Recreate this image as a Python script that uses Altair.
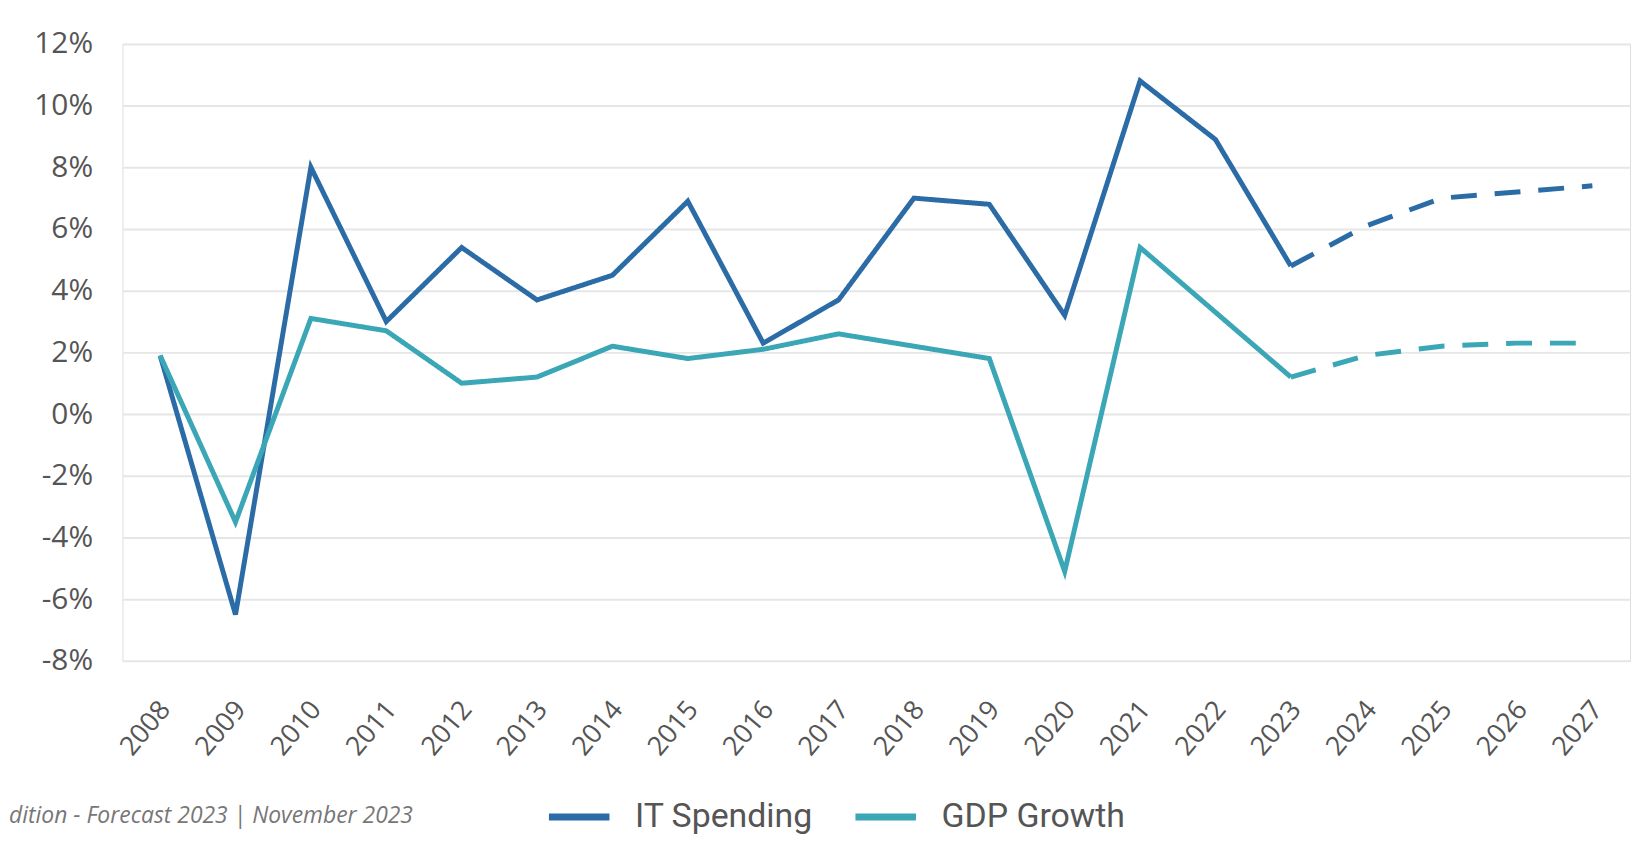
import altair as alt
import pandas as pd

years = [str(y) for y in range(2008, 2028)]
series_names = ["IT Spending", "GDP Growth"]
it_actual = [1.9, -6.5, 8.0, 3.0, 5.4, 3.7, 4.5, 6.9, 2.3, 3.7, 7.0, 6.8, 3.2, 10.8, 8.9, 4.8]
gdp_actual = [1.9, -3.5, 3.1, 2.7, 1.0, 1.2, 2.2, 1.8, 2.1, 2.6, 2.2, 1.8, -5.1, 5.4, 3.3, 1.2]
it_forecast = [4.8, 6.1, 7.0, 7.2, 7.4]
gdp_forecast = [1.2, 1.9, 2.2, 2.3, 2.3]
y_ticks = list(range(-8, 13, 2))
footnote = "dition - Forecast 2023 | November 2023"

rows = []
for i, v in enumerate(it_actual):
    rows.append({"year": years[i], "value": v, "series": "IT Spending", "segment": "Actual"})
for i, v in enumerate(gdp_actual):
    rows.append({"year": years[i], "value": v, "series": "GDP Growth", "segment": "Actual"})
for i, v in enumerate(it_forecast):
    rows.append({"year": years[15 + i], "value": v, "series": "IT Spending", "segment": "Forecast"})
for i, v in enumerate(gdp_forecast):
    rows.append({"year": years[15 + i], "value": v, "series": "GDP Growth", "segment": "Forecast"})
df = pd.DataFrame(rows)

lines = alt.Chart(df).mark_line(strokeWidth=5, strokeJoin="miter", strokeCap="butt").encode(
    x=alt.X("year:O", sort=years, scale=alt.Scale(type="point", padding=0.5, domain=years),
            axis=alt.Axis(title=None, labelAngle=-50, labelAlign="right", labelBaseline="middle",
                          labelPadding=44, labelOffset=5, ticks=False, domain=False, grid=False,
                          labelFont="Open Sans", labelFontSize=27, labelColor="#555555")),
    y=alt.Y("value:Q", scale=alt.Scale(domain=[-8, 12], nice=False, zero=False),
            axis=alt.Axis(title=None, values=y_ticks, labelExpr="datum.value + '%'",
                          labelPadding=30, ticks=False, domain=False, grid=True,
                          gridColor="#e6e6e6", gridWidth=2,
                          labelFont="Open Sans", labelFontSize=30, labelColor="#555555")),
    color=alt.Color("series:N", scale=alt.Scale(domain=series_names, range=["#2b6ba6", "#3aa6b6"]),
                    legend=alt.Legend(title=None, orient="none", direction="horizontal",
                                      legendX=425, legendY=743, symbolType="stroke",
                                      symbolSize=3700, symbolStrokeWidth=7,
                                      labelFont="Roboto", labelFontSize=34, labelColor="#555555",
                                      labelOffset=22, columnPadding=28, labelLimit=0)),
    strokeDash=alt.StrokeDash("segment:N", scale=alt.Scale(domain=["Actual", "Forecast"],
                                                            range=[[1, 0], [26, 18]]), legend=None),
)

note = alt.Chart(pd.DataFrame({"t": [footnote]})).mark_text(
    align="left", baseline="middle", font="Open Sans", fontStyle="italic",
    fontSize=23, color="#777777"
).encode(x=alt.value(-114), y=alt.value(776), text="t:N")

chart = alt.layer(lines, note).properties(
    width=1515, height=620,
    autosize=alt.AutoSizeParams(type="none"),
    padding={"left": 115, "top": 34, "right": 13, "bottom": 190},
).configure_view(stroke=None).configure(background="white")

chart.save("out.html", embed_options={"renderer": "svg", "actions": False})
